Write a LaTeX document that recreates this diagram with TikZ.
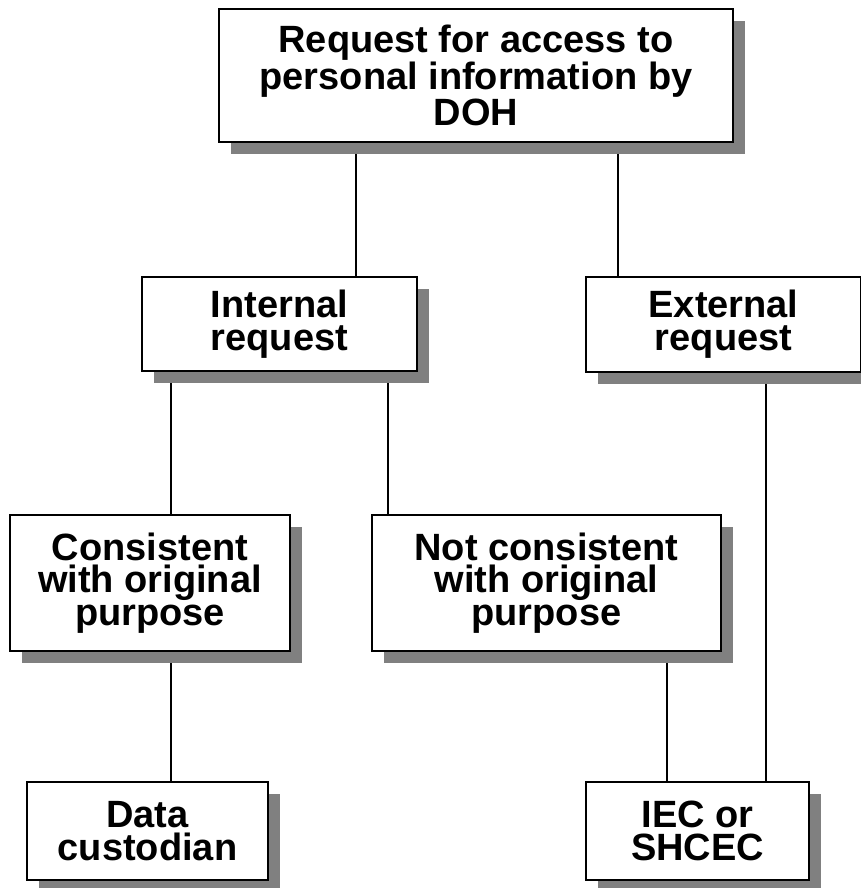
\documentclass[tikz,border=0pt]{standalone}
\usepackage{fontspec}
\setmainfont{Liberation Sans}
\usetikzlibrary{shadows,backgrounds}

\tikzset{
	box/.style={draw=black, line width=1.4pt, fill=white, inner sep=0pt, align=center,
		font=\fontsize{28.5}{24.5}\selectfont\bfseries,
		drop shadow={shadow xshift=9pt, shadow yshift=-9pt, fill=black!50, opacity=1}},
	link/.style={line width=1.1pt, color=black}
}

\begin{document}
\begin{tikzpicture}[x=0.75pt, y=-0.75pt]
	\useasboundingbox (0, 0) rectangle (860, 888);

	%nodes
	\node [box, minimum width=514*0.75pt, minimum height=133*0.75pt] (top) at (476, 75.5)
		{Request for access to\\personal information by\\DOH};
	\node [box, minimum width=275*0.75pt, minimum height=94*0.75pt] (int) at (279.5, 324)
		{Internal\\request};
	\node [box, minimum width=275*0.75pt, minimum height=95*0.75pt] (ext) at (723.5, 324.5)
		{External\\request};
	\node [box, minimum width=280*0.75pt, minimum height=136*0.75pt] (con) at (150, 583)
		{Consistent\\with original\\purpose};
	\node [box, minimum width=349*0.75pt, minimum height=136*0.75pt] (notc) at (546.5, 583)
		{Not consistent\\with original\\purpose};
	\node [box, minimum width=241*0.75pt, minimum height=98*0.75pt] (data) at (147.5, 831)
		{Data\\custodian};
	\node [box, minimum width=223*0.75pt, minimum height=98*0.75pt] (iec) at (697.5, 831)
		{IEC or\\SHCEC};

	%paths
	\begin{pgfonlayer}{background}
		\foreach \a/\b/\x in {
			top/int/356,
			top/ext/618,
			int/con/171,
			int/notc/388,
			con/data/171,
			notc/iec/667,
			ext/iec/766
		}\draw [link] (\a.south -| \x, 0) -- (\b.north -| \x, 0);
	\end{pgfonlayer}

\end{tikzpicture}
\end{document}
